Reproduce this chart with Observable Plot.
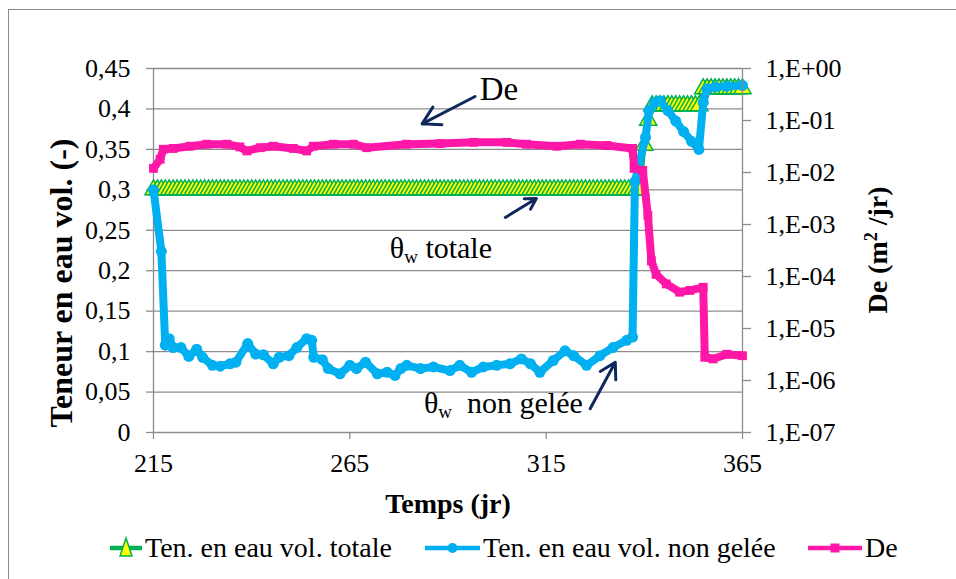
<!DOCTYPE html>
<html>
<head>
<meta charset="utf-8">
<script src="https://cdn.jsdelivr.net/npm/d3@7"></script>
<script src="https://cdn.jsdelivr.net/npm/@observablehq/plot@0.6"></script>
<style>
  html, body { margin: 0; padding: 0; background: #fff; }
  #chart { position: relative; width: 956px; height: 579px; overflow: hidden;
           font-family: "Liberation Serif", "Times New Roman", serif; color: #000; }
  #frame { position: absolute; left: 8px; top: 9px; width: 1000px; height: 700px;
           border: 1.5px solid #8c8c8c; box-sizing: border-box; }
</style>
</head>
<body>
<div id="chart"><div id="frame"></div></div>
<script>
// ---------- data ----------
const dayTicks = [215, 265, 315, 365];
const thetaTicks = [0, 0.05, 0.1, 0.15, 0.2, 0.25, 0.3, 0.35, 0.4, 0.45];
const thetaLabels = ["0", "0,05", "0,1", "0,15", "0,2", "0,25", "0,3", "0,35", "0,4", "0,45"];
const deTicks = [1, 1e-1, 1e-2, 1e-3, 1e-4, 1e-5, 1e-6, 1e-7];
const deLabels = ["1,E+00", "1,E-01", "1,E-02", "1,E-03", "1,E-04", "1,E-05", "1,E-06", "1,E-07"];

// Ten. en eau vol. totale (daily)
const greenDays = [
  215,216,217,218,219,220,221,222,223,224,225,226,227,228,229,230,231,232,233,234,235,236,237,238,239,
  240,241,242,243,244,245,246,247,248,249,250,251,252,253,254,255,256,257,258,259,260,261,262,263,264,
  265,266,267,268,269,270,271,272,273,274,275,276,277,278,279,280,281,282,283,284,285,286,287,288,289,
  290,291,292,293,294,295,296,297,298,299,300,301,302,303,304,305,306,307,308,309,310,311,312,313,314,
  315,316,317,318,319,320,321,322,323,324,325,326,327,328,329,330,331,332,333,334,335,336,337,338,339,
  340,341,342,343,344,345,346,347,348,349,350,351,352,353,354,355,356,357,358,359,360,361,362,363,364,365
];
const greenValues = [
  0.3,0.3,0.3,0.3,0.3,0.3,0.3,0.3,0.3,0.3,0.3,0.3,0.3,0.3,0.3,0.3,0.3,0.3,0.3,0.3,0.3,0.3,0.3,0.3,0.3,
  0.3,0.3,0.3,0.3,0.3,0.3,0.3,0.3,0.3,0.3,0.3,0.3,0.3,0.3,0.3,0.3,0.3,0.3,0.3,0.3,0.3,0.3,0.3,0.3,0.3,
  0.3,0.3,0.3,0.3,0.3,0.3,0.3,0.3,0.3,0.3,0.3,0.3,0.3,0.3,0.3,0.3,0.3,0.3,0.3,0.3,0.3,0.3,0.3,0.3,0.3,
  0.3,0.3,0.3,0.3,0.3,0.3,0.3,0.3,0.3,0.3,0.3,0.3,0.3,0.3,0.3,0.3,0.3,0.3,0.3,0.3,0.3,0.3,0.3,0.3,0.3,
  0.3,0.3,0.3,0.3,0.3,0.3,0.3,0.3,0.3,0.3,0.3,0.3,0.3,0.3,0.3,0.3,0.3,0.3,0.3,0.3,0.3,0.3,0.3,0.3,0.3,
  0.355,0.386,0.404,0.404,0.404,0.404,0.404,0.404,0.404,0.404,0.404,0.404,0.404,0.404,0.404,
  0.425,0.425,0.425,0.425,0.425,0.425,0.425,0.425,0.425,0.425,0.425
];

// Ten. en eau vol. non gelée
const blueDays = [215,217,218,219,220,222,224,226,227.5,230,232,234.5,236,239,241,243,245.5,247,249.5,251.5,
  254,255.3,255.8,258,259.5,262.5,265,266.7,269,272,274.5,276.5,278,279.5,283,286.3,290.5,293,296,299,
  302.4,305.8,308.7,311,313.4,316.8,319.8,322,325.3,328.7,332,335.5,337,337.6,340.3,341.2,342.7,344,346,348,
  350,352,353.9,355,356,358,361,365];
const blueValues = [0.300,0.224,0.108,0.116,0.105,0.105,0.094,0.103,0.093,0.083,0.082,0.085,0.087,0.110,0.097,0.096,0.085,0.093,0.095,0.105,
  0.116,0.114,0.093,0.090,0.079,0.0725,0.083,0.079,0.087,0.0725,0.0745,0.0705,0.079,0.083,0.079,0.081,0.0766,0.083,0.0745,0.081,
  0.083,0.085,0.091,0.085,0.0745,0.089,0.101,0.095,0.083,0.095,0.105,0.114,0.118,0.310,0.365,0.398,0.408,0.410,0.398,0.385,
  0.372,0.360,0.350,0.408,0.425,0.427,0.428,0.429];

// De (m2/jr)
const pinkDays = [215,216.7,217.5,220,224.3,228.6,233.7,237,238.8,242.2,245.5,250.6,254,255.7,260.8,265.9,269.3,279.5,288,296.5,
  305,310,317.7,323.7,330.5,337,337.4,339.6,340.9,341.8,343,345.6,349,351.6,355,355.4,357.5,361,365];
const pinkValues = [1.2e-2,1.8e-2,2.8e-2,2.9e-2,3.2e-2,3.5e-2,3.5e-2,3.1e-2,2.6e-2,3.0e-2,3.2e-2,2.9e-2,2.6e-2,3.2e-2,3.5e-2,3.5e-2,3.0e-2,3.5e-2,3.6e-2,3.8e-2,
  3.8e-2,3.5e-2,3.2e-2,3.5e-2,3.3e-2,2.9e-2,1.2e-2,1.1e-2,1.5e-3,2.0e-4,1.1e-4,7.2e-5,5.0e-5,5.4e-5,6.2e-5,2.8e-6,2.6e-6,3.2e-6,3.0e-6];

// annotations (data coordinates on the left axis)
const arrowStart = [[296.9, 0.4154], [304.6, 0.2658], [326.2, 0.0293]];
const arrowEnd   = [[283.4, 0.3816], [312.5, 0.2893], [332.6, 0.0869]];

// ---------- build ----------
const GRID = "#8c8c8c", GREEN = "#00b050", YELLOW = "#ffff00", BLUE = "#00b0f0", PINK = "#ff17a7", NAVY = "#10285c";
const FONT = "'Liberation Serif', 'Times New Roman', serif";

const green = greenDays.map((d, i) => ({day: d, v: greenValues[i]}));
const blue = blueDays.map((d, i) => ({day: d, v: blueValues[i]}));
const pink = pinkDays.map((d, i) => ({day: d, v: pinkValues[i]}));
const arrows = arrowStart.map((s, i) => ({x1: s[0], y1: s[1], x2: arrowEnd[i][0], y2: arrowEnd[i][1]}));

const frame = {
  width: 956, height: 520,
  marginLeft: 153, marginRight: 214, marginTop: 68, marginBottom: 88,
  style: {fontFamily: FONT, background: "transparent", overflow: "visible"}
};

const plot1 = Plot.plot({
  ...frame,
  x: {domain: [215, 365]},
  y: {domain: [0, 0.45]},
  marks: [
    Plot.ruleY(thetaTicks, {stroke: GRID, strokeWidth: 1.3}),
    Plot.ruleX([dayTicks[0]], {stroke: GRID, strokeWidth: 1.3}),
    Plot.axisY({ticks: thetaTicks, tickFormat: d => thetaLabels[thetaTicks.indexOf(d)], tickSize: 7, tickPadding: 16,
                fontSize: 26, stroke: GRID, strokeWidth: 1.3, fill: "#000", label: null}),
    Plot.axisX({ticks: dayTicks, tickFormat: d => String(d), tickSize: 7, tickPadding: 14,
                fontSize: 26, stroke: GRID, strokeWidth: 1.3, fill: "#000", label: null}),
    Plot.line(green, {x: "day", y: "v", stroke: GREEN, strokeWidth: 4}),
    Plot.dot(green, {x: "day", y: "v", symbol: "triangle", r: 6.4, fill: YELLOW, stroke: GREEN, strokeWidth: 1.5}),
    Plot.line(blue, {x: "day", y: "v", stroke: BLUE, strokeWidth: 8, strokeLinejoin: "round", strokeLinecap: "round"}),
    Plot.dot(blue, {x: "day", y: "v", r: 5.5, fill: BLUE}),
    Plot.arrow(arrows, {x1: "x1", y1: "y1", x2: "x2", y2: "y2", stroke: NAVY, strokeWidth: 3, headLength: 14})
  ]
});

const plot2 = Plot.plot({
  ...frame,
  x: {domain: [215, 365], axis: null},
  y: {type: "log", domain: [1e-7, 1]},
  marks: [
    Plot.ruleX([dayTicks[dayTicks.length - 1]], {stroke: GRID, strokeWidth: 1.3}),
    Plot.axisY({anchor: "right", ticks: deTicks, tickFormat: d => deLabels[deTicks.indexOf(d)], tickSize: 8, tickPadding: 15,
                fontSize: 26, stroke: GRID, strokeWidth: 1.3, fill: "#000", label: null}),
    Plot.line(pink, {x: "day", y: "v", stroke: PINK, strokeWidth: 8, strokeLinejoin: "round"}),
    Plot.dot(pink, {x: "day", y: "v", symbol: "square", r: 5, fill: PINK})
  ]
});

const chart = document.getElementById("chart");
for (const p of [plot1, plot2]) {
  p.style.position = "absolute"; p.style.left = "0px"; p.style.top = "0px";
  chart.appendChild(p);
  d3.select(p).selectAll("text").style("font-family", FONT).style("font-variant", "normal");
  d3.select(p).selectAll("g").style("font-family", FONT);
}

// scales for annotation placement
function sc(plot, name) {
  const s = plot.scale(name);
  if (s && typeof s.apply === "function") return v => s.apply(v);
  return d3.scaleLinear(s.domain, s.range);
}
const sx = sc(plot1, "x"), sy = sc(plot1, "y");

const svg2 = d3.select(plot2);
const ann = svg2.append("g").style("font-family", FONT).attr("fill", "#000").attr("text-anchor", "start");
ann.append("text").attr("x", sx(298.2)).attr("y", sy(0.4105)).attr("font-size", 33).text("De");
const t1 = ann.append("text").attr("x", sx(275.3)).attr("y", sy(0.2151)).attr("font-size", 30);
t1.append("tspan").text("θ");
t1.append("tspan").attr("font-size", 19).attr("dy", 5).text("w");
t1.append("tspan").attr("dy", -5).text(" totale");
const t2 = ann.append("text").attr("x", sx(284.0)).attr("y", sy(0.0235)).attr("font-size", 30);
t2.append("tspan").text("θ");
t2.append("tspan").attr("font-size", 19).attr("dy", 5).text("w");
t2.append("tspan").attr("dy", -5).text("\u00a0 non gelée");

// axis titles and legend (overlay SVG)
const over = d3.select(chart).append("svg").attr("width", 956).attr("height", 579)
  .style("position", "absolute").style("left", "0px").style("top", "0px").style("font-family", FONT);
over.append("text").attr("transform", "translate(72,283) rotate(-90)").attr("text-anchor", "middle")
  .attr("font-size", 32).attr("font-weight", "bold").text("Teneur  en eau vol. (-)");
const rt = over.append("text").attr("transform", "translate(887,250) rotate(-90)").attr("text-anchor", "middle")
  .attr("font-size", 28).attr("font-weight", "bold");
rt.append("tspan").text("De (m");
rt.append("tspan").attr("font-size", 18).attr("dy", -10).text("2");
rt.append("tspan").attr("dy", 10).text(" /jr)");
over.append("text").attr("x", 448).attr("y", 513).attr("text-anchor", "middle")
  .attr("font-size", 28).attr("font-weight", "bold").text("Temps (jr)");

const legendItems = [
  {label: "Ten. en eau vol. totale", color: GREEN, x0: 110, x1: 142, sym: "triangle"},
  {label: "Ten. en eau vol. non gelée", color: BLUE, x0: 425, x1: 480, sym: "circle"},
  {label: "De", color: PINK, x0: 808, x1: 862, sym: "square"}
];
const ly = 548;
for (const it of legendItems) {
  over.append("line").attr("x1", it.x0).attr("x2", it.x1).attr("y1", ly).attr("y2", ly)
    .attr("stroke", it.color).attr("stroke-width", 4.5);
  const cx = (it.x0 + it.x1) / 2;
  if (it.sym === "triangle") {
    over.append("path").attr("d", `M${cx},${ly - 10}L${cx + 6},${ly + 8}L${cx - 6},${ly + 8}Z`)
      .attr("fill", YELLOW).attr("stroke", GREEN).attr("stroke-width", 1.5);
  } else if (it.sym === "circle") {
    over.append("circle").attr("cx", cx).attr("cy", ly).attr("r", 5).attr("fill", it.color);
  } else {
    over.append("rect").attr("x", cx - 4.5).attr("y", ly - 4.5).attr("width", 9).attr("height", 9).attr("fill", it.color);
  }
  over.append("text").attr("x", it.x1 + 3).attr("y", ly + 9).attr("font-size", 28).text(it.label);
}
</script>
</body>
</html>
